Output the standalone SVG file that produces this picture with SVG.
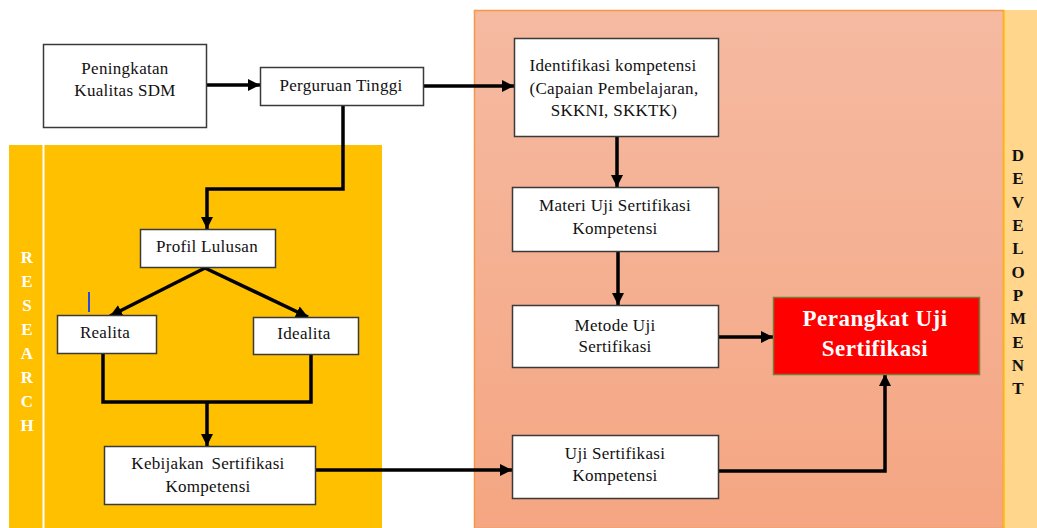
<svg xmlns="http://www.w3.org/2000/svg" width="1037" height="528" viewBox="0 0 1037 528">
<defs>
<linearGradient id="salmon" x1="0" y1="0" x2="0" y2="1">
<stop offset="0" stop-color="#F5BAA2"/>
<stop offset="1" stop-color="#F5A682"/>
</linearGradient>
<marker id="ah" markerUnits="userSpaceOnUse" markerWidth="14" markerHeight="12" refX="12" refY="6" orient="auto">
<path d="M0,0 L12,6 L0,12 Z" fill="#000"/>
</marker>
<style>
text{font-family:'Liberation Serif','Times New Roman','DejaVu Serif',serif}
.box{fill:#fff;stroke:#3a3a3a;stroke-width:1.5}
.t{font-size:17px;letter-spacing:0.3px;fill:#111;text-anchor:middle}
.c{fill:none;stroke:#000;stroke-width:3.5}
.a{marker-end:url(#ah)}
.res{font-size:17px;font-weight:bold;fill:#fff;text-anchor:middle}
.dev{font-size:17px;font-weight:bold;fill:#111;text-anchor:middle}
.big{font-size:23px;font-weight:bold;fill:#fff;text-anchor:middle;letter-spacing:0.5px}
</style>
</defs>
<rect width="1037" height="528" fill="#fff"/>
<g id="research-panel">
<rect x="9" y="145" width="373" height="383" fill="#FFC000"/>
<line x1="43.5" y1="145" x2="43.5" y2="528" stroke="#fff" stroke-width="2"/>
<text class="res" x="27" y="263">R</text>
<text class="res" x="27" y="287">E</text>
<text class="res" x="27" y="311">S</text>
<text class="res" x="27" y="335">E</text>
<text class="res" x="27" y="359">A</text>
<text class="res" x="27" y="383">R</text>
<text class="res" x="27" y="407">C</text>
<text class="res" x="27" y="431">H</text>
</g>
<g id="development-panel">
<rect x="474.5" y="10.5" width="529" height="518" fill="url(#salmon)" stroke="#F79646" stroke-width="1.5"/>
<rect x="1004" y="10" width="33" height="518" fill="#FFD68C"/>
<line x1="1004" y1="10" x2="1004" y2="528" stroke="#FFC000" stroke-width="1.5"/>
<text class="dev" x="1018" y="161">D</text>
<text class="dev" x="1018" y="184">E</text>
<text class="dev" x="1018" y="208">V</text>
<text class="dev" x="1018" y="231">E</text>
<text class="dev" x="1018" y="254">L</text>
<text class="dev" x="1018" y="278">O</text>
<text class="dev" x="1018" y="301">P</text>
<text class="dev" x="1018" y="324">M</text>
<text class="dev" x="1018" y="348">E</text>
<text class="dev" x="1018" y="371">N</text>
<text class="dev" x="1018" y="394">T</text>
</g>
<g id="connectors">
<line class="c a" x1="206" y1="85" x2="260" y2="85"/>
<line class="c a" x1="423" y1="86" x2="514" y2="86"/>
<path class="c a" d="M343,105 V189 H207 V229"/>
<line class="c a" x1="205" y1="268" x2="110" y2="316"/>
<line class="c a" x1="205" y1="268" x2="308" y2="317"/>
<path class="c" d="M103,353 V402 H311 V354"/>
<line class="c a" x1="207" y1="402" x2="207" y2="446"/>
<line class="c a" x1="315" y1="470" x2="512" y2="470"/>
<line class="c a" x1="617" y1="136" x2="617" y2="187"/>
<line class="c a" x1="618" y1="251" x2="618" y2="305"/>
<line class="c a" x1="718" y1="337" x2="773" y2="337"/>
<path class="c a" d="M711,471 H885 V374"/>
</g>
<line id="cursor-mark" x1="89" y1="292" x2="89" y2="312" stroke="#1F4FE0" stroke-width="2"/>
<g id="n-peningkatan">
<rect class="box" x="43.5" y="44.5" width="163" height="83"/>
<text class="t" x="125" y="74">Peningkatan</text>
<text class="t" x="125" y="96">Kualitas SDM</text>
</g>
<g id="n-perguruan">
<rect class="box" x="260.5" y="67.5" width="163" height="38"/>
<text class="t" x="341" y="91">Perguruan Tinggi</text>
</g>
<g id="n-profil">
<rect class="box" x="140.5" y="229.5" width="135" height="38"/>
<text class="t" x="207" y="252">Profil Lulusan</text>
</g>
<g id="n-realita">
<rect class="box" x="57.5" y="315.5" width="99" height="38"/>
<text class="t" x="105" y="338">Realita</text>
</g>
<g id="n-idealita">
<rect class="box" x="253.5" y="317.5" width="105" height="37"/>
<text class="t" x="304" y="339">Idealita</text>
</g>
<g id="n-kebijakan">
<rect class="box" x="104.5" y="446.5" width="211" height="58"/>
<text class="t" x="208" y="469" word-spacing="3">Kebijakan Sertifikasi</text>
<text class="t" x="208" y="492">Kompetensi</text>
</g>
<g id="n-identifikasi">
<rect class="box" x="514.5" y="38.5" width="204" height="98"/>
<text class="t" x="613" y="71">Identifikasi kompetensi</text>
<text class="t" x="614" y="94">(Capaian Pembelajaran,</text>
<text class="t" x="614" y="116">SKKNI, SKKTK)</text>
</g>
<g id="n-materi">
<rect class="box" x="512.5" y="187.5" width="206" height="64"/>
<text class="t" x="615" y="211">Materi Uji Sertifikasi</text>
<text class="t" x="615" y="234">Kompetensi</text>
</g>
<g id="n-metode">
<rect class="box" x="512.5" y="305.5" width="206" height="62"/>
<text class="t" x="615" y="331">Metode Uji</text>
<text class="t" x="615" y="352">Sertifikasi</text>
</g>
<g id="n-uji">
<rect class="box" x="512.5" y="435.5" width="206" height="63"/>
<text class="t" x="615" y="459">Uji Sertifikasi</text>
<text class="t" x="615" y="481">Kompetensi</text>
</g>
<g id="n-perangkat">
<rect x="773.5" y="297.5" width="206" height="77" fill="#FF0000" stroke="#7A7A3A" stroke-width="1.5"/>
<text class="big" x="875" y="326">Perangkat Uji</text>
<text class="big" x="875" y="356">Sertifikasi</text>
</g>
</svg>
